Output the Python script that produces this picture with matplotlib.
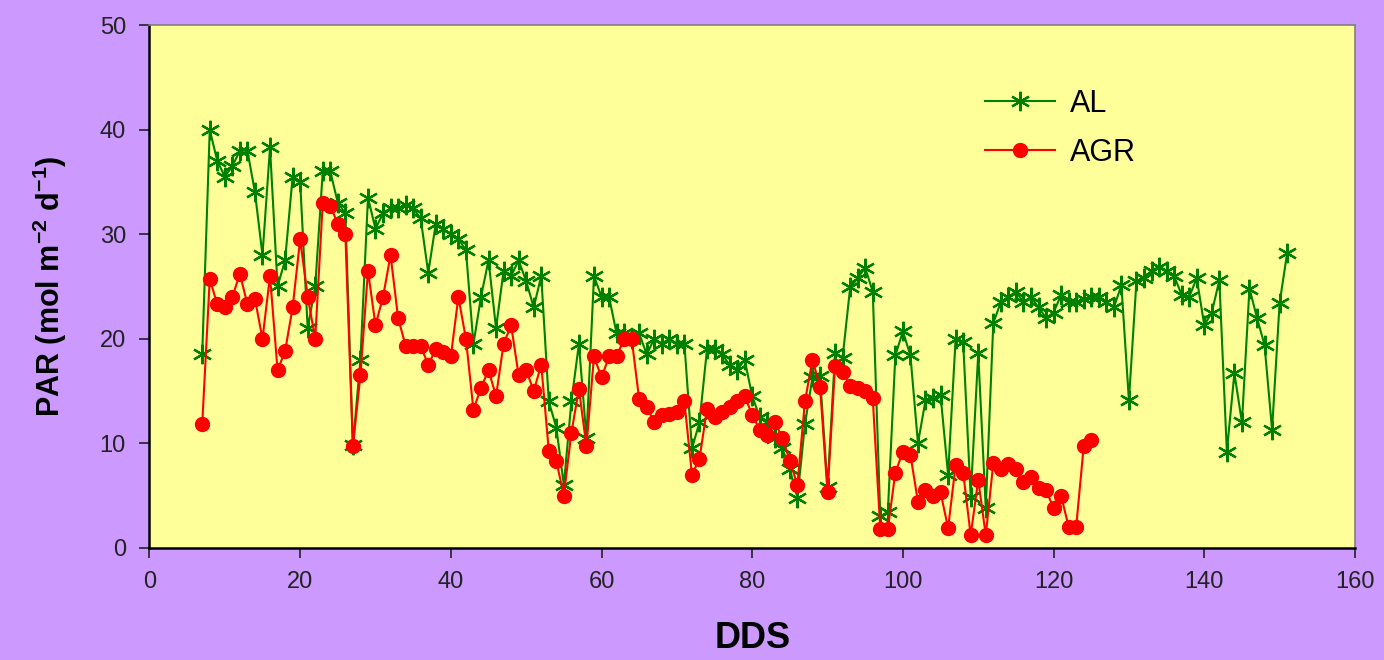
import matplotlib.pyplot as plt
import numpy as np

plt.rcParams['font.family'] = ['Liberation Sans', 'DejaVu Sans']
plt.rcParams['mathtext.default'] = 'regular'

# days after sowing (DDS)
al_days = list(range(7, 152))
al_values = [18.5, 40.0, 37.0, 35.5, 36.5, 38.0, 38.0, 34.0, 28.0, 38.3,
             25.0, 27.5, 35.5, 35.0, 21.0, 25.0, 36.0, 36.0, 33.0, 32.0,
             9.8, 18.0, 33.5, 30.5, 32.0, 32.5, 32.5, 32.8, 32.5, 31.5,
             26.3, 31.0, 30.5, 30.0, 29.5, 28.5, 19.5, 24.0, 27.5, 21.0,
             26.5, 26.0, 27.5, 25.5, 23.0, 26.0, 14.0, 11.5, 6.0, 14.0,
             19.5, 10.5, 26.0, 24.0, 24.0, 20.5, 20.5, 20.0, 20.5, 18.5,
             20.0, 19.5, 20.0, 19.5, 19.5, 9.5, 12.0, 19.0, 19.0, 18.5,
             17.5, 17.0, 18.0, 14.5, 12.5, 12.0, 10.5, 9.5, 7.5, 4.8,
             11.8, 16.3, 16.4, 5.8, 18.6, 18.2, 24.9, 25.8, 26.8, 24.5,
             3.0, 3.4, 18.4, 20.7, 18.4, 10.0, 14.1, 14.3, 14.6, 7.0,
             20.0, 19.7, 4.9, 18.6, 3.8, 21.5, 23.5, 24.0, 24.5, 23.5,
             24.0, 23.0, 22.0, 22.5, 24.2, 23.5, 23.5, 23.8, 24.0, 24.0,
             23.5, 23.0, 25.1, 14.1, 25.5, 25.8, 26.5, 26.9, 26.5, 26.0,
             24.2, 24.0, 25.8, 21.3, 22.5, 25.6, 9.2, 16.7, 12.0, 24.8,
             22.0, 19.4, 11.3, 23.4, 28.2]

agr_days = list(range(7, 126))
agr_values = [11.8, 25.7, 23.3, 23.0, 24.0, 26.2, 23.3, 23.8, 20.0, 26.0,
              17.0, 18.8, 23.0, 29.5, 24.0, 20.0, 33.0, 32.7, 31.0, 30.0,
              9.7, 16.5, 26.5, 21.3, 24.0, 28.0, 22.0, 19.3, 19.3, 19.3,
              17.5, 19.0, 18.7, 18.3, 24.0, 20.0, 13.2, 15.3, 17.0, 14.5,
              19.5, 21.3, 16.5, 17.0, 15.0, 17.5, 9.3, 8.3, 5.0, 11.0,
              15.2, 9.7, 18.3, 16.3, 18.3, 18.3, 20.0, 20.0, 14.2, 13.5,
              12.0, 12.7, 12.8, 13.0, 14.0, 7.0, 8.5, 13.3, 12.5, 13.0,
              13.5, 14.0, 14.5, 12.7, 11.3, 10.8, 12.0, 10.5, 8.3, 6.0,
              14.0, 18.0, 15.4, 5.3, 17.4, 16.8, 15.5, 15.3, 15.0, 14.3,
              1.8, 1.8, 7.2, 9.2, 8.9, 4.4, 5.5, 5.0, 5.3, 1.9,
              7.9, 7.2, 1.2, 6.5, 1.2, 8.1, 7.5, 8.0, 7.5, 6.3,
              6.8, 5.7, 5.5, 3.8, 5.0, 2.0, 2.0, 9.7, 10.3]

fig = plt.figure(figsize=(13.84, 6.6), dpi=100, facecolor='#CC99FF')
ax = fig.add_axes([0.108, 0.170, 0.871, 0.792])
ax.set_facecolor('#FFFF99')

ax.plot(al_days, al_values, color='#008000', lw=1.5, marker=(6, 2, 0),
        ms=14, mew=1.6, label='AL')
ax.plot(agr_days, agr_values, color='#FF0000', lw=1.5, marker='o',
        ms=10, label='AGR')

ax.set_xlim(0, 160)
ax.set_ylim(0, 50)
ax.set_xticks(np.arange(0, 161, 20))
ax.set_yticks(np.arange(0, 51, 10))
ax.tick_params(direction='out', length=7, width=1.2, labelsize=17,
               colors='#222222', pad=10)

for side in ['left', 'bottom']:
    ax.spines[side].set_color('black')
    ax.spines[side].set_linewidth(1.8)
for side in ['top', 'right']:
    ax.spines[side].set_color('#808080')
    ax.spines[side].set_linewidth(1.2)

ax.set_ylabel('PAR (mol m$^{-2}$ d$^{-1}$)', fontsize=22, fontweight='bold',
              labelpad=22)
ax.set_xlabel('DDS', fontsize=26, fontweight='bold', labelpad=20)

ax.legend(loc='upper left', bbox_to_anchor=(0.67, 0.93), frameon=False,
          fontsize=22, handlelength=2.3, handletextpad=0.5, labelspacing=0.6)

fig.savefig('out.png', dpi=100, facecolor=fig.get_facecolor())
